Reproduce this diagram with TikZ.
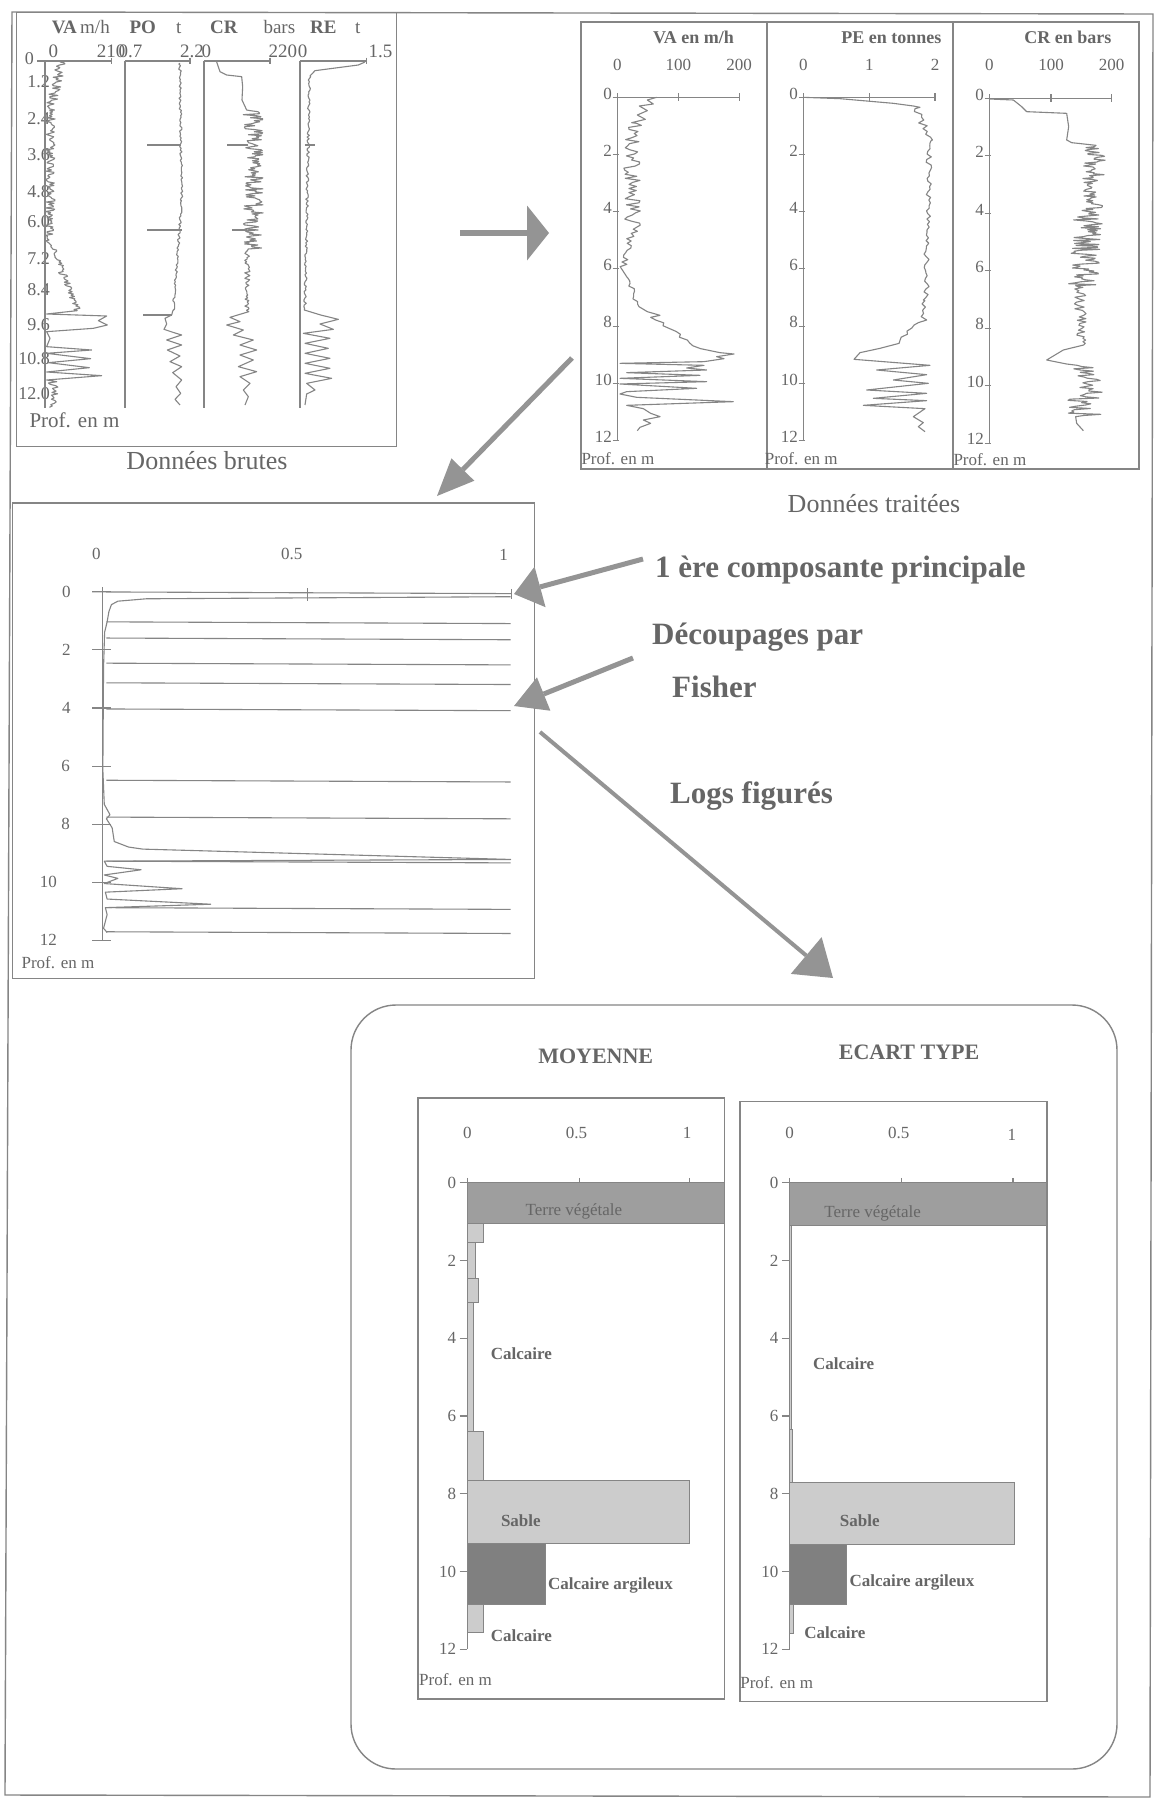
\documentclass[tikz,border=0pt]{standalone}
\usepackage{fontspec}
\setmainfont{Liberation Serif}
\usetikzlibrary{arrows.meta}
\definecolor{ink}{gray}{0.40}
\definecolor{ln}{gray}{0.52}
\definecolor{arr}{gray}{0.58}
\definecolor{fdark}{gray}{0.50}
\definecolor{fmid}{gray}{0.62}
\definecolor{flight}{gray}{0.80}
\newcommand{\nz}[6]{--plot[variable=\t,domain=#2:#4,samples=#6]({#1+(#3-#1)*((\t-#2)/(#4-#2))+#5*rand},{\t})}
\begin{document}
\begin{tikzpicture}[x=1pt,y=-1pt,
  pframe/.style={draw=ln,line width=1.4pt},
  ax/.style={draw=ln,line width=1.1pt},
  trace/.style={draw=ln,line width=1.1pt,line join=round},
  lbar/.style={draw=ln,line width=0.8pt},
  txt/.style={text=ink,inner sep=0pt,font=\fontsize{17}{20}\selectfont},
  txtb/.style={text=ink,inner sep=0pt,font=\fontsize{17}{20}\selectfont\bfseries},
  ttl/.style={text=ink,inner sep=0pt,font=\fontsize{18}{21}\selectfont\bfseries},
  rdep/.style={text=ink,inner sep=0pt,font=\fontsize{18}{21}\selectfont,anchor=east},
  hdr/.style={text=ink,inner sep=0pt,font=\fontsize{19}{22}\selectfont,anchor=base west},
  hdrb/.style={text=ink,inner sep=0pt,font=\fontsize{19}{22}\selectfont\bfseries,anchor=base west},
  captxt/.style={text=ink,inner sep=0pt,font=\fontsize{26}{30}\selectfont,anchor=base},
  bigtxt/.style={text=ink,inner sep=0pt,font=\fontsize{31}{36}\selectfont\bfseries,anchor=base west},
  ttlb/.style={text=ink,inner sep=0pt,font=\fontsize{22}{26}\selectfont\bfseries},
  bigarr/.style={draw=arr,line width=5pt},
]
\pgfmathsetseed{3}
\useasboundingbox (0,0) rectangle (1155,1799);
\fill[white] (0,0) rectangle (1155,1799);
\draw[pframe] (12,12) -- (1153,14) -- (1150,1797) -- (5,1795) -- cycle;

% ================= raw data panel =================
\begin{scope}[scale=1/3]
\draw[pframe] (50,38) rectangle (1190,1340);
\node[hdrb] (rVA) at (155,100) {VA};
\node[hdr] (rVAu) at (240,100) {m/h};
\node[hdrb] (rPO) at (388,100) {PO};
\node[hdr] (rPOu) at (528,100) {t};
\node[hdrb] (rCR) at (630,100) {CR};
\node[hdr] (rCRu) at (790,100) {bars};
\node[hdrb] (rRE) at (930,100) {RE};
\node[hdr] (rREu) at (1065,100) {t};
\node[hdr] (rs1) at (145,172) {0};
\node[hdr] (rs2) at (290,172) {210};
\node[hdr] (rs3) at (355,172) {0.7};
\node[hdr] (rs4) at (540,172) {2.2};
\node[hdr] (rs5) at (604,172) {0};
\node[hdr] (rs6) at (805,172) {220};
\node[hdr] (rs7) at (893,172) {0};
\node[hdr] (rs8) at (1105,172) {1.5};
\node[rdep] (rd0) at (102,175) {0};
\foreach \yy/\lab [count=\i] in {245/1.2,355/2.4,465/3.6,575/4.8,665/6.0,775/7.2,870/8.4,975/9.6,1075/10.8,1180/12.0}
  \node[rdep] (rd\i) at (150,\yy) {\lab};
% axes
\draw[ax] (112,183) -- (335,183);
\draw[ax] (335,173) -- (335,193);
\draw[ax] (135,183) -- (135,1225);
\draw[ax] (375,183) -- (570,183);
\draw[ax] (570,173) -- (570,193);
\draw[ax] (375,183) -- (375,1225);
\draw[ax] (612,183) -- (810,183);
\draw[ax] (810,173) -- (810,193);
\draw[ax] (612,183) -- (612,1225);
\draw[ax] (900,183) -- (1100,183);
\draw[ax] (1100,173) -- (1100,193);
\draw[ax] (900,183) -- (900,1225);
% VA raw
\draw[trace] (180,186) \nz{185}{188}{152}{330}{16}{40} \nz{152}{332}{150}{720}{14}{110} \nz{150}{722}{232}{932}{12}{60} -- (140,942) -- (320,948) -- (295,962) -- (322,975) -- (280,985) -- (140,995) -- (150,1015) -- (140,1040) -- (275,1050) -- (140,1060) -- (272,1076) -- (145,1088) -- (268,1103) -- (140,1116) -- (305,1127) -- (140,1140) \nz{160}{1145}{160}{1222}{15}{20};
% PO raw
\draw[trace] (540,190) \nz{540}{192}{545}{600}{4}{80} \nz{545}{602}{520}{932}{4}{66} -- (515,945) -- (495,955) -- (500,972) -- (492,988) -- (522,998) -- (545,1005) -- (500,1020) -- (545,1035) -- (502,1050) -- (540,1068) -- (510,1085) -- (545,1100) -- (518,1118) -- (545,1140) -- (528,1160) -- (542,1180) -- (525,1198) -- (540,1215);
\draw[trace] (542,435) -- (440,435);
\draw[trace] (545,690) -- (440,690);
\draw[trace] (515,945) -- (430,945);
% CR raw
\draw[trace] (650,186) -- (660,215) -- (680,225) -- (725,230) -- (728,260) -- (726,300) -- (740,330) \nz{758}{332}{760}{750}{30}{140} \nz{742}{752}{742}{935}{8}{45} -- (690,952) -- (720,965) -- (680,975) -- (730,990) -- (700,1005) -- (760,1020) -- (720,1035) -- (770,1050) -- (720,1065) -- (760,1080) -- (715,1100) -- (770,1115) -- (720,1130) -- (750,1150) -- (730,1170) -- (745,1190) -- (735,1215);
\draw[trace] (745,435) -- (680,435);
\draw[trace] (740,690) -- (695,690);
% RE raw
\draw[trace] (1095,186) -- (1075,195) -- (945,212) -- (930,228) \nz{928}{230}{915}{930}{4}{140} -- (962,945) -- (1015,958) -- (960,972) -- (1000,988) -- (910,1000) -- (990,1015) -- (915,1030) -- (985,1045) -- (915,1060) -- (990,1075) -- (915,1090) -- (990,1105) -- (915,1120) -- (995,1135) -- (920,1150) -- (945,1170) -- (920,1182) -- (915,1215);
\draw[trace] (915,435) -- (945,435);
\node[txt,anchor=base west,font=\fontsize{21}{24}\selectfont] (rprof) at (88,1282) {Prof. en m};
\end{scope}
\node[captxt] (rcap) at (207,469) {Données brutes};

% ================= processed data panel =================
\draw[pframe] (581,22) rectangle (1139,469);
\draw[pframe] (767,22) -- (767,469);
\draw[pframe] (953,22) -- (953,469);
\begin{scope}[shift={(560,0)},scale=1/3]
% VA
\node[ttl,anchor=base east] (pVAt) at (522,130) {VA en m/h};
\node[txt,anchor=base] (pVAs0) at (172,210) {0};
\node[txt,anchor=base] (pVAs1) at (355,210) {100};
\node[txt,anchor=base] (pVAs2) at (537,210) {200};
\draw[ax] (172,292) -- (538,292);
\foreach \xx in {172,355,538} \draw[ax] (\xx,280) -- (\xx,304);
\draw[ax] (172,292) -- (172,1322);
\foreach \dd in {0,2,...,12} \draw[ax] (158,{292+85.8*\dd}) -- (176,{292+85.8*\dd});
\foreach \dd [count=\i] in {0,2,...,12} \node[txt,anchor=base east] (pVAd\i) at (156,{297+85.8*\dd}) {\dd};
\draw[trace] (290,292) -- (262,300) -- (280,312) -- (238,318) -- (262,332) -- (232,345) -- (256,358) -- (215,368) \nz{218}{370}{215}{700}{28}{55} \nz{212}{702}{192}{800}{12}{15} -- (200,830) \nz{205}{835}{232}{920}{8}{12} -- (262,935) -- (300,946) -- (272,952) \nz{290}{960}{420}{1046}{10}{11} -- (480,1058) -- (522,1062) -- (470,1070) -- (492,1076) -- (432,1085) -- (180,1090) -- (432,1096) -- (380,1104) -- (440,1110) -- (200,1118) -- (420,1126) -- (180,1135) -- (440,1145) -- (180,1152) -- (410,1165) -- (200,1175) -- (180,1182) -- (230,1192) -- (520,1205) -- (200,1216) -- (250,1226) -- (272,1240) -- (300,1250) -- (250,1260) -- (272,1270) -- (240,1282) -- (232,1292);
\node[txt,anchor=base west] (pVAp) at (64,1395) {Prof. en m};
% PE
\node[ttl,anchor=base east] (pPEt) at (1145,130) {PE en tonnes};
\node[txt,anchor=base] (pPEs0) at (730,210) {0};
\node[txt,anchor=base] (pPEs1) at (928,210) {1};
\node[txt,anchor=base] (pPEs2) at (1125,210) {2};
\draw[ax] (730,292) -- (1125,292);
\foreach \xx in {730,928,1125} \draw[ax] (\xx,280) -- (\xx,304);
\draw[ax] (730,292) -- (730,1322);
\foreach \dd in {0,2,...,12} \draw[ax] (716,{292+85.8*\dd}) -- (734,{292+85.8*\dd});
\foreach \dd [count=\i] in {0,2,...,12} \node[txt,anchor=base east] (pPEd\i) at (714,{297+85.8*\dd}) {\dd};
\draw[trace] (730,292) -- (840,296) -- (1000,310) -- (1060,318) -- (1080,322) \nz{1070}{326}{1105}{420}{14}{12} \nz{1108}{422}{1098}{900}{9}{60} \nz{1095}{902}{1085}{950}{8}{6} -- (1100,960) -- (1075,968) \nz{1060}{975}{1010}{1030}{8}{7} -- (960,1045) -- (900,1058) -- (882,1078) -- (1110,1096) -- (950,1110) -- (1100,1124) -- (1000,1140) -- (1105,1150) -- (920,1170) -- (1100,1180) -- (940,1195) -- (1100,1202) -- (910,1216) -- (1095,1226) -- (1060,1250) -- (1090,1268) -- (1075,1280) -- (1095,1295);
\node[txt,anchor=base west] (pPEp) at (614,1395) {Prof. en m};
\end{scope}
\begin{scope}[shift={(850,0)},scale=1/3]
\node[ttl,anchor=base east] (pCRt) at (785,130) {CR en bars};
\node[txt,anchor=base] (pCRs0) at (418,210) {0};
\node[txt,anchor=base] (pCRs1) at (603,210) {100};
\node[txt,anchor=base] (pCRs2) at (785,210) {200};
\draw[ax] (418,295) -- (785,295);
\foreach \xx in {418,603,785} \draw[ax] (\xx,283) -- (\xx,307);
\draw[ax] (418,295) -- (418,1330);
\foreach \dd in {0,2,...,12} \draw[ax] (404,{295+86.25*\dd}) -- (422,{295+86.25*\dd});
\foreach \dd [count=\i] in {0,2,...,12} \node[txt,anchor=base east] (pCRd\i) at (402,{300+86.25*\dd}) {\dd};
\draw[trace] (418,297) -- (490,300) -- (515,320) -- (530,335) -- (650,340) -- (656,380) -- (650,420) -- (665,428) -- (738,436) \nz{735}{440}{725}{640}{33}{70} \nz{715}{642}{700}{860}{45}{75} \nz{688}{862}{700}{1035}{18}{36} -- (640,1050) -- (590,1080) -- (650,1092) \nz{700}{1096}{705}{1250}{55}{45} -- (680,1270) -- (700,1292);
\node[txt,anchor=base west] (pCRp) at (310,1398) {Prof. en m};
\end{scope}
\node[captxt] (pcap) at (874,512) {Données traitées};

% ================= first principal component panel =================
\begin{scope}[shift={(0,460)},xscale=1/2.8,yscale=1/2.904]
\draw[pframe] (35,125) rectangle (1497,1505);
\node[txt,anchor=base] (mS0) at (270,288) {0};
\node[txt,anchor=base] (mS1) at (817,288) {0.5};
\node[txt,anchor=base] (mS2) at (1410,292) {1};
\draw[ax] (258,383) -- (1432,388);
\draw[ax] (288,370) -- (288,398);
\draw[ax] (860,372) -- (860,408);
\draw[ax] (1432,374) -- (1432,404);
\draw[ax] (288,383) -- (288,1395);
\foreach \dd in {0,2,...,12} \draw[ax] (258,{383+84.3*\dd}) -- (312,{383+84.3*\dd});
\foreach \dd/\xx [count=\i] in {0/198,2/198,4/198,6/196,8/196,10/160,12/160}
  \node[txt,anchor=east] (mD\i) at (\xx,{383+84.3*\dd}) {\dd};
\foreach \yy in {470,517,590,647,723,930,1037,1165,1300,1370}
  \draw[ax] (298,\yy) -- (1430,\yy+5);
\draw[trace] (1430,397) -- (410,403) -- (330,410) -- (312,420) -- (305,440) -- (300,470) -- (293,500) -- (290,600) -- (288,900) -- (292,1000) -- (308,1030) -- (298,1042) -- (314,1068) -- (320,1108) -- (360,1124) -- (400,1130) -- (1430,1160) -- (292,1165) -- (300,1180) -- (395,1190) -- (292,1205) -- (330,1215) -- (292,1230) -- (510,1245) -- (295,1255) -- (300,1275) -- (590,1290) -- (295,1300) -- (300,1320) -- (290,1360) -- (300,1372);
\node[txt,anchor=base west] (mProf) at (60,1478) {Prof. en m};
\end{scope}

% ================= arrows =================
\coordinate (aR0) at (460,233); \coordinate (aR1) at (549,233);
\draw[bigarr,line width=6pt,-{Triangle[length=22pt,width=55pt,line width=0pt]}] (aR0) -- (aR1);
\coordinate (aD0) at (572,358); \coordinate (aD1) at (437,496);
\draw[bigarr,-{Triangle[length=37pt,width=32pt,line width=0pt]}] (aD0) -- (aD1);
\coordinate (aP0) at (643,559); \coordinate (aP1) at (514,594);
\draw[bigarr,-{Triangle[length=27pt,width=42pt,line width=0pt]}] (aP0) -- (aP1);
\coordinate (aF0) at (633,658); \coordinate (aF1) at (514,706);
\draw[bigarr,-{Triangle[length=32pt,width=36pt,line width=0pt]}] (aF0) -- (aF1);
\coordinate (aL0) at (540,732); \coordinate (aL1) at (833,978);
\draw[bigarr,line width=4pt,-{Triangle[length=35pt,width=48pt,line width=0pt]}] (aL0) -- (aL1);

\node[bigtxt] (l1) at (655,577) {1 ère composante principale};
\node[bigtxt] (l2) at (652,644) {Découpages par};
\node[bigtxt] (l3) at (672,697) {Fisher};
\node[bigtxt] (l4) at (670,803) {Logs figurés};

% ================= logs panel =================
\draw[pframe,rounded corners=45pt] (351,1005) rectangle (1117,1769);
\begin{scope}[shift={(340,990)},xscale=1/1.924,yscale=1/1.96]
\node[ttlb] (bM) at (492,130) {MOYENNE};
\node[ttlb] (bE) at (1095,122) {ECART TYPE};
\draw[pframe] (150,212) rectangle (740,1390);
\draw[pframe] (770,218) rectangle (1360,1395);
% left graph
\node[txt] (bLs0) at (245,280) {0};
\node[txt] (bLs1) at (455,280) {0.5};
\node[txt] (bLs2) at (668,280) {1};
\draw[ax] (232,378) -- (672,378);
\foreach \xx in {245,460,672} \draw[ax] (\xx,368) -- (\xx,388);
\draw[ax] (245,378) -- (245,1292);
\foreach \dd in {0,2,...,12} \draw[ax] (230,{378+76.17*\dd}) -- (245,{378+76.17*\dd});
\foreach \dd [count=\i] in {0,2,...,12} \node[txt,anchor=east] (bLd\i) at (224,{378+76.17*\dd}) {\dd};
\filldraw[lbar,fill=fmid] (245,378) rectangle (740,458);
\filldraw[lbar,fill=flight] (245,458) rectangle (275,495);
\filldraw[lbar,fill=flight] (245,495) rectangle (260,565);
\filldraw[lbar,fill=flight] (245,565) rectangle (266,612);
\filldraw[lbar,fill=flight] (245,612) rectangle (257,865);
\filldraw[lbar,fill=flight] (245,865) rectangle (275,962);
\filldraw[lbar,fill=flight] (245,962) rectangle (673,1085);
\filldraw[lbar,fill=fdark] (245,1085) rectangle (396,1205);
\filldraw[lbar,fill=flight] (245,1205) rectangle (275,1260);
\node[txt] (bLtv) at (450,433) {Terre végétale};
\node[txtb,anchor=west] (bLc1) at (290,713) {Calcaire};
\node[txtb] (bLsa) at (348,1040) {Sable};
\node[txtb,anchor=west] (bLca) at (400,1168) {Calcaire argileux};
\node[txtb,anchor=west] (bLc2) at (290,1265) {Calcaire};
\node[txt,anchor=west] (bLp) at (152,1352) {Prof. en m};
% right graph
\node[txt] (bRs0) at (865,280) {0};
\node[txt] (bRs1) at (1075,280) {0.5};
\node[txt] (bRs2) at (1293,283) {1};
\draw[ax] (852,378) -- (1295,378);
\foreach \xx in {865,1080,1295} \draw[ax] (\xx,368) -- (\xx,388);
\draw[ax] (865,378) -- (865,1292);
\foreach \dd in {0,2,...,12} \draw[ax] (850,{378+76.17*\dd}) -- (865,{378+76.17*\dd});
\foreach \dd [count=\i] in {0,2,...,12} \node[txt,anchor=east] (bRd\i) at (844,{378+76.17*\dd}) {\dd};
\filldraw[lbar,fill=fmid] (865,378) rectangle (1360,462);
\filldraw[lbar,fill=flight] (865,462) rectangle (868,862);
\filldraw[lbar,fill=flight] (865,862) rectangle (871,965);
\filldraw[lbar,fill=flight] (865,965) rectangle (1297,1087);
\filldraw[lbar,fill=fdark] (865,1087) rectangle (975,1205);
\filldraw[lbar,fill=flight] (865,1205) rectangle (872,1262);
\node[txt] (bRtv) at (1025,437) {Terre végétale};
\node[txtb,anchor=west] (bRc1) at (910,733) {Calcaire};
\node[txtb] (bRsa) at (1000,1040) {Sable};
\node[txtb,anchor=west] (bRca) at (980,1162) {Calcaire argileux};
\node[txtb,anchor=west] (bRc2) at (893,1260) {Calcaire};
\node[txt,anchor=west] (bRp) at (770,1357) {Prof. en m};
\end{scope}
\end{tikzpicture}
\end{document}
